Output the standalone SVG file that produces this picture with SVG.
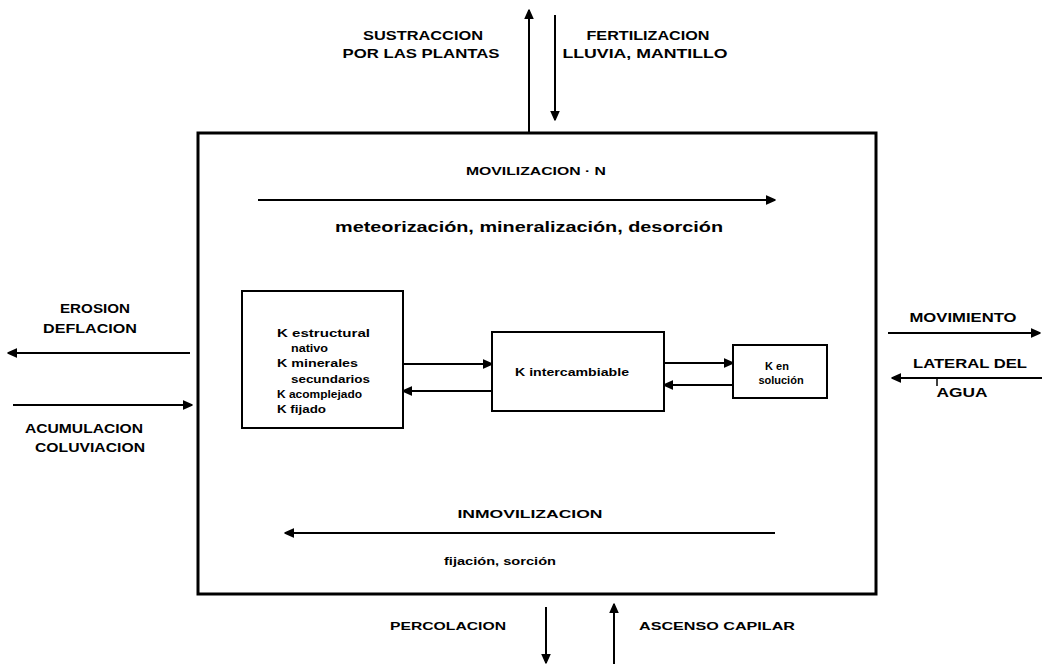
<svg xmlns="http://www.w3.org/2000/svg" width="1042" height="667" viewBox="0 0 1042 667">
<defs>
<marker id="ah" markerUnits="userSpaceOnUse" markerWidth="12" markerHeight="10" refX="9" refY="5" orient="auto">
<path d="M0,1 L9,5 L0,9 Z" fill="#000" stroke="#000" stroke-width="1.5" stroke-linejoin="round"/>
</marker>
<style>
.lbl{font-family:"Liberation Sans",Arial,sans-serif;font-weight:bold;font-size:12px;fill:#000}
.sm{font-family:"Liberation Sans",Arial,sans-serif;font-weight:bold;font-size:11px;fill:#000}
.big{font-family:"Liberation Sans",Arial,sans-serif;font-weight:bold;font-size:15px;fill:#000}
.box{fill:none;stroke:#000;stroke-width:2}
.main{fill:none;stroke:#000;stroke-width:3}
.ar{fill:none;stroke:#000;stroke-width:2;marker-end:url(#ah)}
.ln{fill:none;stroke:#000;stroke-width:1.5}
</style>
</defs>
<rect width="1042" height="667" fill="#fff"/>

<g id="suelo">
<rect class="main" x="198" y="133" width="678" height="461"/>
</g>

<g id="k-estructural">
<rect class="box" x="242" y="291" width="161" height="137"/>
<text class="sm" x="277" y="337" textLength="93" lengthAdjust="spacingAndGlyphs">K estructural</text>
<text class="sm" x="291" y="352" textLength="37" lengthAdjust="spacingAndGlyphs">nativo</text>
<text class="sm" x="277" y="367" textLength="81" lengthAdjust="spacingAndGlyphs">K minerales</text>
<text class="sm" x="291" y="383" textLength="79" lengthAdjust="spacingAndGlyphs">secundarios</text>
<text class="sm" x="277" y="398" textLength="85" lengthAdjust="spacingAndGlyphs">K acomplejado</text>
<text class="sm" x="277" y="413" textLength="49" lengthAdjust="spacingAndGlyphs">K fijado</text>
</g>

<g id="k-intercambiable">
<rect class="box" x="492" y="332" width="172" height="79"/>
<text class="sm" x="572" y="376" text-anchor="middle" textLength="114" lengthAdjust="spacingAndGlyphs">K intercambiable</text>
</g>

<g id="k-solucion">
<rect class="box" x="733" y="345" width="94" height="53"/>
<text class="sm" x="777" y="370" text-anchor="middle">K en</text>
<text class="sm" x="781" y="384" text-anchor="middle">solución</text>
</g>

<g id="labels">
<text class="lbl" x="423" y="40" text-anchor="middle" textLength="120" lengthAdjust="spacingAndGlyphs">SUSTRACCION</text>
<text class="lbl" x="421" y="58" text-anchor="middle" textLength="157" lengthAdjust="spacingAndGlyphs">POR LAS PLANTAS</text>
<text class="lbl" x="648" y="40" text-anchor="middle" textLength="123" lengthAdjust="spacingAndGlyphs">FERTILIZACION</text>
<text class="lbl" x="645" y="58" text-anchor="middle" textLength="165" lengthAdjust="spacingAndGlyphs">LLUVIA, MANTILLO</text>
<text class="sm" x="536" y="175" text-anchor="middle" textLength="140" lengthAdjust="spacingAndGlyphs">MOVILIZACION · N</text>
<text class="big" x="529" y="232" text-anchor="middle" textLength="388" lengthAdjust="spacingAndGlyphs">meteorización, mineralización, desorción</text>
<text class="sm" x="530" y="518" text-anchor="middle" textLength="145" lengthAdjust="spacingAndGlyphs">INMOVILIZACION</text>
<text class="sm" x="500" y="565" text-anchor="middle" textLength="112" lengthAdjust="spacingAndGlyphs">fijación, sorción</text>
<text class="sm" x="448" y="630" text-anchor="middle" textLength="116" lengthAdjust="spacingAndGlyphs">PERCOLACION</text>
<text class="sm" x="717" y="630" text-anchor="middle" textLength="156" lengthAdjust="spacingAndGlyphs">ASCENSO CAPILAR</text>
<text class="lbl" x="95" y="313" text-anchor="middle" textLength="70" lengthAdjust="spacingAndGlyphs">EROSION</text>
<text class="lbl" x="90" y="333" text-anchor="middle" textLength="94" lengthAdjust="spacingAndGlyphs">DEFLACION</text>
<text class="lbl" x="84" y="433" text-anchor="middle" textLength="118" lengthAdjust="spacingAndGlyphs">ACUMULACION</text>
<text class="lbl" x="90" y="452" text-anchor="middle" textLength="110" lengthAdjust="spacingAndGlyphs">COLUVIACION</text>
<text class="lbl" x="963" y="322" text-anchor="middle" textLength="107" lengthAdjust="spacingAndGlyphs">MOVIMIENTO</text>
<text class="lbl" x="970" y="368" text-anchor="middle" textLength="114" lengthAdjust="spacingAndGlyphs">LATERAL DEL</text>
<text class="lbl" x="962" y="397" text-anchor="middle" textLength="51" lengthAdjust="spacingAndGlyphs">AGUA</text>
</g>

<g id="connectors">
<line class="ar" x1="529" y1="133" x2="529" y2="10"/>
<line class="ar" x1="555" y1="15" x2="555" y2="120"/>
<line class="ar" x1="258" y1="200" x2="775" y2="200"/>
<line class="ar" x1="775" y1="533" x2="285" y2="533"/>
<line class="ar" x1="403" y1="364" x2="492" y2="364"/>
<line class="ar" x1="492" y1="391" x2="403" y2="391"/>
<line class="ar" x1="664" y1="363" x2="733" y2="363"/>
<line class="ar" x1="733" y1="385" x2="664" y2="385"/>
<line class="ar" x1="190" y1="353" x2="8" y2="353"/>
<line class="ar" x1="13" y1="405" x2="192" y2="405"/>
<line class="ar" x1="888" y1="333" x2="1040" y2="333"/>
<line class="ar" x1="1042" y1="378" x2="892" y2="378"/>
<line class="ln" x1="937" y1="378" x2="937" y2="386"/>
<line class="ar" x1="546" y1="607" x2="546" y2="663"/>
<line class="ar" x1="614" y1="664" x2="614" y2="604"/>
</g>
</svg>
